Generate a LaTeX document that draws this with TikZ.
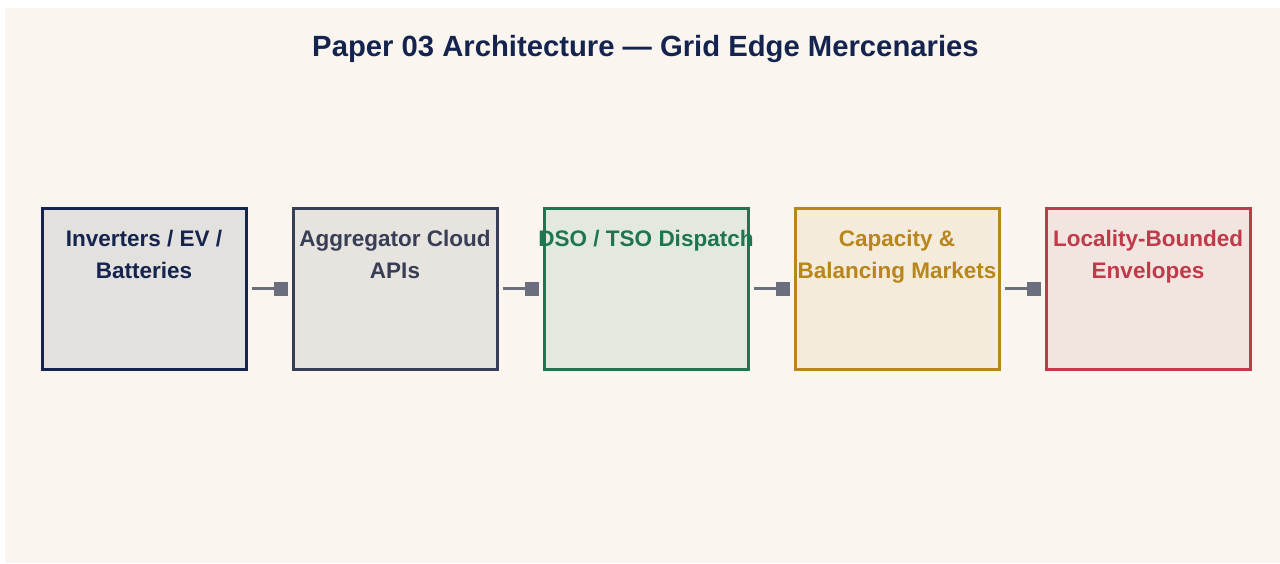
\documentclass[tikz,border=0pt]{standalone}
\usepackage{fontspec}
\setmainfont{Liberation Sans}
\usepackage{xcolor}
\usetikzlibrary{arrows.meta,positioning,backgrounds}

\definecolor{bgcol}{HTML}{FAF6EF}
\definecolor{navy}{HTML}{15244F}
\definecolor{slate}{HTML}{373E55}
\definecolor{forest}{HTML}{1F7550}
\definecolor{gold}{HTML}{B8861B}
\definecolor{crimson}{HTML}{C03A4A}
\definecolor{wire}{HTML}{6B6F7D}
\definecolor{navyfill}{HTML}{E3E1DE}
\definecolor{slatefill}{HTML}{E7E3DE}
\definecolor{forestfill}{HTML}{E4E9DF}
\definecolor{goldfill}{HTML}{F4EBDA}
\definecolor{crimsonfill}{HTML}{F2E4DE}

\tikzset{
  layer/.style={draw=#1, fill=#1fill, line width=3pt, minimum width=204pt,
    minimum height=161pt, inner sep=0pt, outer sep=0pt},
  lbl/.style={text=#1, font=\bfseries\fontsize{22.5}{31.5}\selectfont, align=center,
    anchor=base, inner sep=0pt},
  link/.style={draw=wire, line width=3pt, -{Square[length=14pt,width=14pt]},
    shorten <=6pt, shorten >=5pt}
}

\begin{document}
\begin{tikzpicture}[x=1pt,y=-1pt]
\useasboundingbox (0,0) rectangle (1280,563);
\fill[bgcol] (5,8) rectangle (1280,563);

\node[text=navy, font=\bfseries\fontsize{29.25}{34}\selectfont, anchor=base] (title) at (645.5,56) {Paper 03 Architecture — Grid Edge Mercenaries};

\node[layer=navy] (dev) at (144,288.5) {};
\node[layer=slate,right=47pt of dev] (agg) {};
\node[layer=forest,right=47pt of agg] (dso) {};
\node[layer=gold,right=47pt of dso] (mkt) {};
\node[layer=crimson,right=47pt of mkt] (env) {};

% base = last line, so two-line labels sit one line lower
\node[lbl=navy] (devT) at (dev.center |- 0,278) {Inverters / EV /\\Batteries};
\node[lbl=slate] (aggT) at (agg.center |- 0,278) {Aggregator Cloud\\APIs};
\node[lbl=forest] (dsoT) at (dso.center |- 0,246.5) {DSO / TSO Dispatch};
\node[lbl=gold] (mktT) at (mkt.center |- 0,278) {Capacity \&\\Balancing Markets};
\node[lbl=crimson] (envT) at (env.center |- 0,278) {Locality-Bounded\\Envelopes};

\draw[link] (dev) -- (agg);
\draw[link] (agg) -- (dso);
\draw[link] (dso) -- (mkt);
\draw[link] (mkt) -- (env);
\end{tikzpicture}
\end{document}
